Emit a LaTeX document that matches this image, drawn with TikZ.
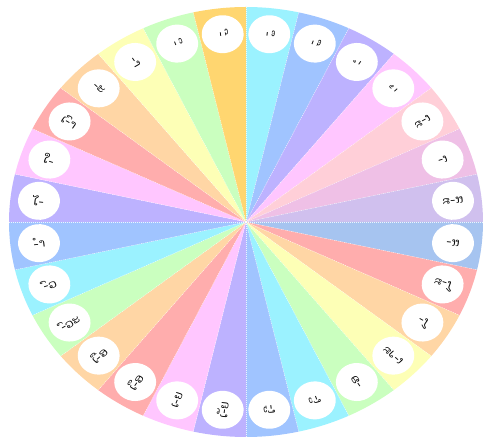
\documentclass[tikz,border=0pt]{standalone}
\usepackage{fontspec}
\newfontfamily\laofont[Script=Lao]{Dhyana}
\definecolor{pcyan}{HTML}{9BF2FF}
\definecolor{pblue}{HTML}{A0C4FF}
\definecolor{ppurple}{HTML}{BDB2FF}
\definecolor{ppink}{HTML}{FFC6FF}
\definecolor{pred}{HTML}{FFADAD}
\definecolor{ppeach}{HTML}{FFD6A5}
\definecolor{pyellow}{HTML}{FDFFB6}
\definecolor{pgreen}{HTML}{CAFFBF}
\definecolor{pgold}{HTML}{FFD670}
\definecolor{prose}{HTML}{FFCFD8}
\definecolor{pmauve}{HTML}{EFC0E6}
\definecolor{plav}{HTML}{D0C0EE}
\definecolor{psky}{HTML}{A6C4F0}
\begin{document}
\begin{tikzpicture}[x=1pt,y=1pt,
  labelbox/.style={circle, fill=white, minimum size=38pt, inner sep=0pt,
    font=\laofont\fontsize{11}{12}\selectfont, transform shape},
  divider/.style={white, opacity=0.8, line width=0.4pt, dash pattern=on 1pt off 1pt}]
\useasboundingbox (0,0) rectangle (483,439);
\begin{scope}[shift={(246,217)}, xscale=1.1023]
  \foreach \c [count=\i from 0] in {pcyan,pblue,ppurple,ppink,prose,pmauve,plav,psky,pred,ppeach,pyellow,pgreen,pcyan,pblue,ppurple,ppink,pred,ppeach,pgreen,pcyan,pblue,ppurple,ppink,pred,ppeach,pyellow,pgreen,pgold} {
    \pgfmathsetmacro\a{90-\i*360/28}
    \pgfmathsetmacro\b{90-(\i+1)*360/28}
    \fill[\c] (0,0) -- (\a:215) arc[start angle=\a, end angle=\b, radius=215] -- cycle;
  }
  \foreach \i in {0,...,27} {
    \draw[divider] (0,0) -- ({90-\i*360/28}:215);
  }
  \foreach \t [count=\i from 0] in {-ຶ,-ື,-ຸ,-ູ,ເ-ະ,ເ-,ແ-ະ,ແ-,ໂ-ະ,ໂ-,ເ-າະ,-ອ,ເ-ິ,ເ-ີ,ເ-ັຍ,ເ-ຍ,ເ-ຶອ,ເ-ືອ,-ົວະ,-ົວ,-ຳ,ໄ-,ໃ-,ເ-ົາ,-ະ,-າ,-ິ,-ີ} {
    \pgfmathsetmacro\m{90-(\i+0.5)*360/28}
    \node[labelbox, rotate=\m+180] (v\i) at (\m:189) {\t};
  }
\end{scope}
\end{tikzpicture}
\end{document}
